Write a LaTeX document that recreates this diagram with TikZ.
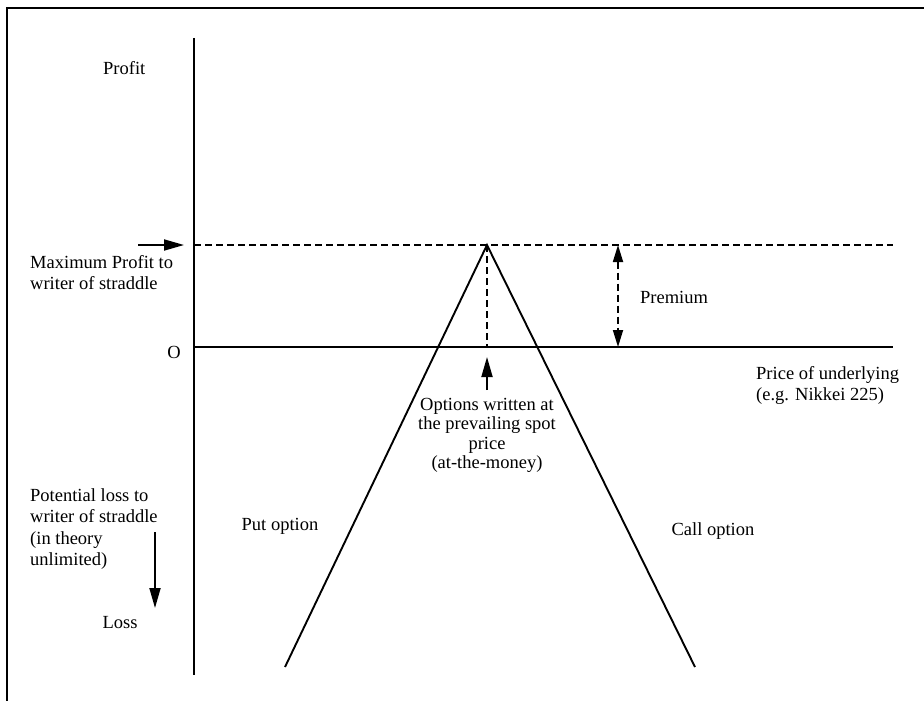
\documentclass[tikz,border=0pt]{standalone}
\usepackage{fontspec}
\setmainfont{Liberation Serif}
\usetikzlibrary{arrows.meta}
\begin{document}
\begin{tikzpicture}[x=1pt,y=-1pt,
  frameline/.style={line width=2.6pt},
  axis/.style={line width=2.1pt},
  payoff/.style={line width=1.9pt},
  guide/.style={line width=1.7pt, dash pattern=on 7pt off 4pt},
  pointer/.style={line width=1.8pt, -{Triangle[length=20pt,width=11pt]}},
  twoway/.style={line width=1.7pt, dash pattern=on 7pt off 4pt,
    {Triangle[length=17pt,width=10pt]}-{Triangle[length=17pt,width=10pt]}},
  lbl/.style={font=\fontsize{18.5}{21.5}\selectfont, inner sep=0pt},
]
\useasboundingbox (0,0) rectangle (924,701);

% frame (top and left edges)
\draw[frameline] (7,701) -- (7,8) -- (924,8);

% axes
\coordinate (ytop) at (194,38);
\coordinate (ybot) at (194,675);
\coordinate (origin) at (194,347);
\coordinate (xend) at (893,347);
\draw[axis] (ytop) -- (ybot);
\draw[axis] (origin) -- (xend);

% maximum profit level
\coordinate (maxl) at (194,245);
\coordinate (maxr) at (893,245);
\draw[guide] (maxl) -- (maxr);

% straddle payoff
\coordinate (apex) at (487,245);
\coordinate (putend) at (285,667);
\coordinate (callend) at (695,667);
\draw[payoff] (putend) -- (apex) -- (callend);

% strike marker
\coordinate (strike) at (487,347);
\draw[guide] (apex) -- (strike);
\coordinate (strikeTip) at (487,357);
\coordinate (strikeTail) at (487,390);
\draw[pointer] (strikeTail) -- (strikeTip);

% premium
\coordinate (premTop) at (618,245);
\coordinate (premBot) at (618,347);
\draw[twoway] (premTop) -- (premBot);

% side pointers
\coordinate (maxTail) at (138,245);
\coordinate (maxTip) at (184,245);
\draw[pointer] (maxTail) -- (maxTip);
\coordinate (lossTail) at (155,532);
\coordinate (lossTip) at (155,608);
\draw[pointer] (lossTail) -- (lossTip);

% labels
\node[lbl, anchor=west] (profit) at (103,68) {Profit};
\node[lbl, anchor=north west, align=left] (maxtext) at (30,255)
  {Maximum Profit to\\writer of straddle};
\node[lbl] (zero) at (174,352) {O};
\node[lbl] (premium) at (674,297) {Premium};
\node[lbl, anchor=north west, align=left] (price) at (756,366)
  {Price of underlying\\(e.g. Nikkei 225)};
\node[lbl, anchor=north, align=center,
      font=\fontsize{18.5}{19.5}\selectfont] (written) at (487,398)
  {Options written at\\the prevailing spot\\price\\(at-the-money)};
\node[lbl, anchor=north west, align=left] (losstext) at (30,488)
  {Potential loss to\\writer of straddle\\(in theory\\unlimited)};
\node[lbl] (put) at (280,526) {Put option};
\node[lbl] (call) at (713,531) {Call option};
\node[lbl] (loss) at (120,623) {Loss};
\end{tikzpicture}
\end{document}
